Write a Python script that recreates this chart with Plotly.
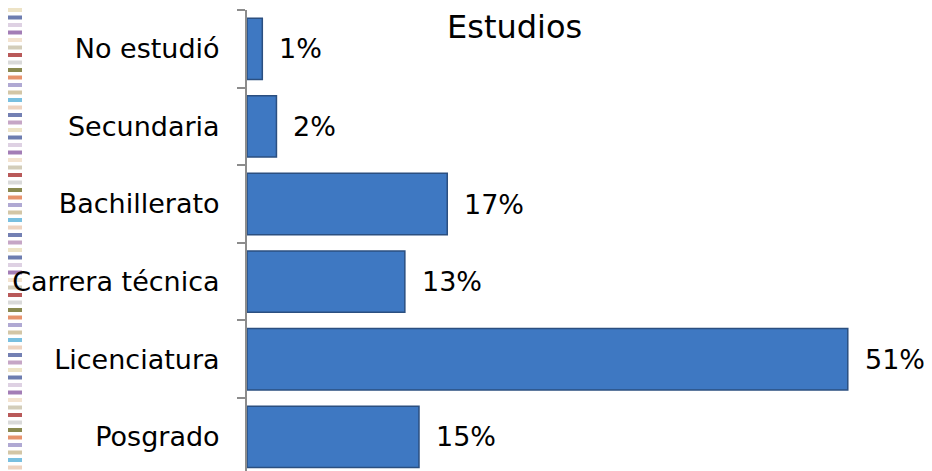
import plotly.graph_objects as go

categories = ["No estudió", "Secundaria", "Bachillerato", "Carrera técnica", "Licenciatura", "Posgrado"]
values = [1.3, 2.5, 17.0, 13.4, 51.0, 14.6]
labels = ["1%", "2%", "17%", "13%", "51%", "15%"]
title_text = "Estudios"

# page has an 8px body margin: figure spans screen 8..932 x 8..471
OFF = 8
W, H = 932 - OFF, 471 - OFF
ML, MR, MT, MB = 247 - OFF, 4, 10 - OFF, 0
PX_PER_UNIT = 11.78
plot_w = W - ML - MR
plot_h = H - MT - MB
xmax = plot_w / PX_PER_UNIT
FONT = "DejaVu Sans"

fig = go.Figure()
fig.add_trace(go.Bar(
    y=categories, x=values, orientation="h",
    marker=dict(color="#3E78C2", line=dict(color="#2B4F80", width=1.5)),
    hoverinfo="skip",
))

for c, v, t in zip(categories, values, labels):
    fig.add_annotation(x=v, y=c, text=t, showarrow=False, xanchor="left",
                       xshift=15, font=dict(family=FONT, size=27, color="#000"))

# title
fig.add_annotation(xref="paper", yref="paper", x=(514 - OFF - ML) / plot_w,
                   y=1 + MT / plot_h, xanchor="center", yanchor="top",
                   yshift=2, text=title_text, showarrow=False,
                   font=dict(family=FONT, size=32, color="#000"))

# decorative stripes on left edge
stripe_colors = ["#e8dcb8", "#4a5c9c", "#d6c6dc", "#8c5ca4", "#f0dcc4", "#c8c0a8",
                 "#a83030", "#d0d0d0", "#6c6c24", "#e07848", "#9c94c8", "#c8b890",
                 "#58b0d8", "#e8c8b0", "#5060a0", "#b890b8"]
y = 0.0
i = 0
shapes = []
while y < H:
    y0, y1 = y, y + 4
    shapes.append(dict(type="rect", xref="paper", yref="paper",
                       x0=-ML / plot_w, x1=(14 - ML) / plot_w,
                       y0=(H - MB - y1) / plot_h, y1=(H - MB - y0) / plot_h,
                       fillcolor=stripe_colors[i % len(stripe_colors)], opacity=0.8,
                       line=dict(width=0), layer="below"))
    y += 7.5
    i += 1

fig.update_layout(
    width=W, height=H,
    margin=dict(l=ML, r=MR, t=MT, b=MB, autoexpand=False),
    paper_bgcolor="white", plot_bgcolor="white",
    bargap=0.21,
    showlegend=False,
    shapes=shapes,
    font=dict(family=FONT, size=27, color="#000"),
    xaxis=dict(range=[0, xmax], visible=False, fixedrange=True, automargin=False),
    yaxis=dict(type="category", categoryorder="array", categoryarray=categories,
               range=[5.44, -0.5], showline=True, linecolor="#8c8c8c", linewidth=2,
               ticks="outside", tickson="boundaries", ticklen=8, tickcolor="#8c8c8c",
               tickwidth=2, ticklabelstandoff=20, showgrid=False, zeroline=False,
               automargin=False,
               tickfont=dict(family=FONT, size=27, color="#000")),
)

fig.write_html("out.html")
